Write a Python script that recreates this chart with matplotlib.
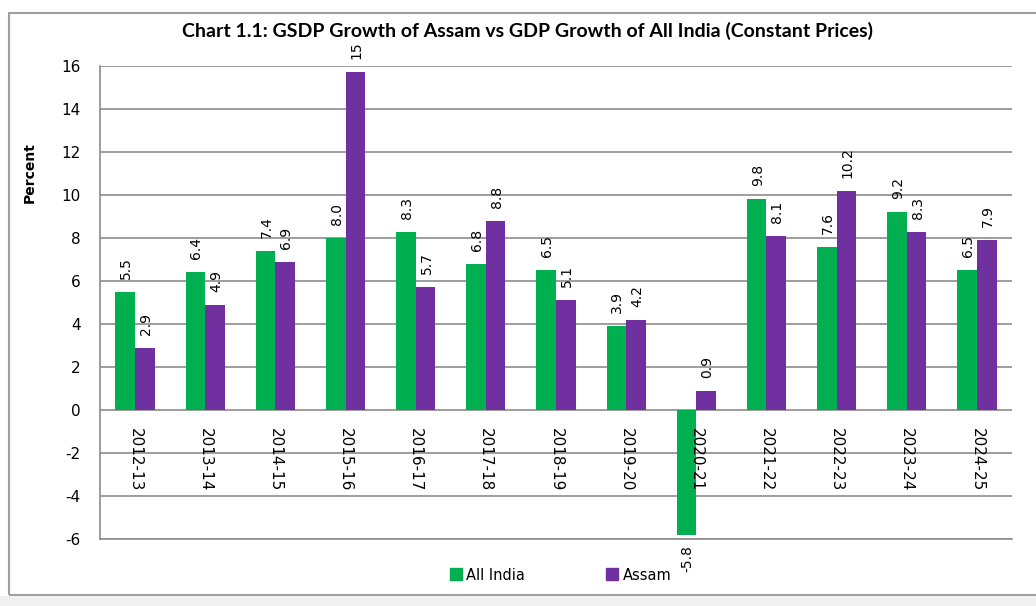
import numpy as np
import matplotlib.pyplot as plt
from matplotlib.patches import Rectangle
from matplotlib.lines import Line2D

years = ["2012-13", "2013-14", "2014-15", "2015-16", "2016-17", "2017-18", "2018-19",
         "2019-20", "2020-21", "2021-22", "2022-23", "2023-24", "2024-25"]
all_india = [5.5, 6.4, 7.4, 8.0, 8.3, 6.8, 6.5, 3.9, -5.8, 9.8, 7.6, 9.2, 6.5]
assam = [2.9, 4.9, 6.9, 15.7, 5.7, 8.8, 5.1, 4.2, 0.9, 8.1, 10.2, 8.3, 7.9]
india_labels = ["5.5", "6.4", "7.4", "8.0", "8.3", "6.8", "6.5", "3.9", "-5.8", "9.8", "7.6", "9.2", "6.5"]
assam_labels = ["2.9", "4.9", "6.9", "15", "5.7", "8.8", "5.1", "4.2", "0.9", "8.1", "10.2", "8.3", "7.9"]

green = "#00B050"
purple = "#7030A0"
grid_c = "#8c8c8c"

plt.rcParams["axes.unicode_minus"] = False

fig = plt.figure(figsize=(10.36, 6.06), dpi=100)
W, H = 1036, 606

# outer chart frame and grey strip at the bottom
fig.patches.append(Rectangle((9 / W, 1 - 595 / H), 1.2, 582 / H, transform=fig.transFigure,
                             fill=False, edgecolor="#a0a0a0", lw=1.5))
fig.patches.append(Rectangle((0, 0), 1, 1 - 596 / H, transform=fig.transFigure,
                             facecolor="#f0f0f0", edgecolor="none"))

ax = fig.add_axes([100 / W, 1 - 539 / H, 912 / W, (539 - 66) / H])
x = np.arange(len(years))
bw = 0.28
ax.bar(x - bw / 2, all_india, bw, color=green, label="All India", zorder=3)
ax.bar(x + bw / 2, assam, bw, color=purple, label="Assam", zorder=3)

ax.set_xlim(-0.5, len(years) - 0.5)
ax.set_ylim(-6, 16)
ax.set_yticks(range(-6, 17, 2))
ax.set_xticks([])
ax.tick_params(axis="y", length=0, pad=14, labelsize=11)
ax.grid(axis="y", color=grid_c, lw=1.2, zorder=0)
for s in ["top", "right"]:
    ax.spines[s].set_visible(False)
ax.spines["left"].set_color(grid_c)
ax.spines["bottom"].set_color(grid_c)
ax.spines["left"].set_linewidth(1.2)
ax.spines["bottom"].set_linewidth(1.2)

def put_labels(xs, vals, labels):
    for xi, v, lab in zip(xs, vals, labels):
        if v >= 0:
            ax.annotate(lab, (xi, v), xytext=(1, 13), textcoords="offset pixels",
                        rotation=90, ha="center", va="bottom", fontsize=10, clip_on=False)
        else:
            ax.annotate(lab, (xi, v), xytext=(1, -10), textcoords="offset pixels",
                        rotation=90, ha="center", va="top", fontsize=10, clip_on=False)

put_labels(x - bw / 2, all_india, india_labels)
put_labels(x + bw / 2, assam, assam_labels)

for xi, yr in zip(x, years):
    ax.annotate(yr, (xi, 0), xytext=(0, -18), textcoords="offset pixels",
                rotation=-90, ha="center", va="top", fontsize=11, zorder=4)

fig.text(527 / W, 1 - 31 / H, "Chart 1.1: GSDP Growth of Assam vs GDP Growth of All India (Constant Prices)",
         ha="center", va="center", fontsize=14, fontweight="bold", family="Lato")
fig.text(30 / W, 1 - 173 / H, "Percent", rotation=90, ha="center", va="center",
         fontsize=10, fontweight="bold")

handles = [Line2D([], [], marker="s", ls="none", color=green, markersize=8),
           Line2D([], [], marker="s", ls="none", color=purple, markersize=8)]
fig.legend(handles, ["All India", "Assam"], loc="center", bbox_to_anchor=(560 / W, 1 - 575 / H),
           ncol=2, frameon=False, fontsize=10.5, columnspacing=5.5, handletextpad=0.2,
           handlelength=1.0)

fig.savefig("out.png", dpi=100)
